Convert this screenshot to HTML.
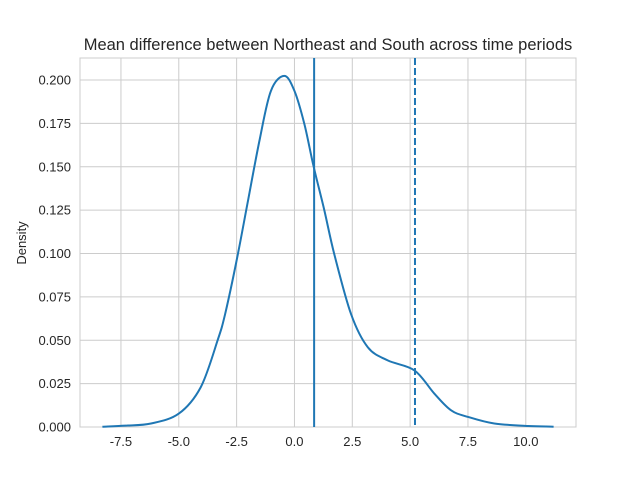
<!DOCTYPE html>
<html><head><meta charset="utf-8"><style>
body{margin:0;background:#fff;}
svg{display:block;font-family:"Liberation Sans","DejaVu Sans",sans-serif;}
</style></head><body>
<svg id="chart" width="640" height="480">
<text x="328" y="50" text-anchor="middle" font-size="16.5" fill="#262626">Mean difference between Northeast and South across time periods</text>
<text transform="translate(26,243) rotate(-90)" text-anchor="middle" font-size="13" fill="#262626">Density</text>
<g id="grid"></g><g id="marks"></g><g id="ticks"></g>
</svg>
<script>
const xs=[-8.3,-7.3,-6.2,-5,-4.05,-3.32,-3.0,-2.5,-2.0,-1.5,-1.02,-0.44,0,0.43,0.83,1.29,1.72,2.45,3.17,4.03,5.19,6.05,6.77,7.5,8.64,10.1,11.2];
const dens=[0.0002,0.0008,0.002,0.0077,0.023,0.050,0.065,0.096,0.131,0.166,0.1937,0.2024,0.1937,0.1746,0.150,0.125,0.0998,0.065,0.046,0.0384,0.0326,0.0192,0.0096,0.0058,0.002,0.0006,0.0002];
const xTicks=[-7.5,-5.0,-2.5,0.0,2.5,5.0,7.5,10.0];
const yTicks=[0.000,0.025,0.050,0.075,0.100,0.125,0.150,0.175,0.200];
const meanLine=[0.85];
const dashedLine=[5.21];
const L=80,R=576,T=58,B=427;
const xMin=-9.27,xMax=12.17,yMin=0,yMax=0.2127;
const sx=v=>L+(v-xMin)/(xMax-xMin)*(R-L);
const sy=v=>B-(v-yMin)/(yMax-yMin)*(B-T);
const NS='http://www.w3.org/2000/svg';
function mk(tag,attrs,parent){const e=document.createElementNS(NS,tag);for(const k in attrs)e.setAttribute(k,attrs[k]);document.getElementById(parent).appendChild(e);return e;}
const frame=mk('rect',{x:L,y:T,width:R-L,height:B-T,fill:'none',stroke:'#cccccc','stroke-width':1},'grid');


xTicks.forEach(v=>{
 const g=mk('line',{x1:sx(v),x2:sx(v),y1:T,y2:B,stroke:'#cccccc','stroke-width':1},'grid');
 
 
 const t=mk('text',{x:sx(v),y:B+19,'text-anchor':'middle','font-size':13,fill:'#262626'},'ticks');
 t.textContent=v.toFixed(1);
 
 
});
yTicks.forEach(v=>{
 const g=mk('line',{x1:L,x2:R,y1:sy(v),y2:sy(v),stroke:'#cccccc','stroke-width':1},'grid');
 
 
 const t=mk('text',{x:L-9,y:sy(v)+4.5,'text-anchor':'end','font-size':13,fill:'#262626'},'ticks');
 t.textContent=v.toFixed(3);
 
 
});
const P=xs.map((x,i)=>[sx(x),sy(dens[i])]);
let d='M'+P[0][0].toFixed(1)+','+P[0][1].toFixed(1);
for(let i=0;i<P.length-1;i++){
 const p0=P[Math.max(0,i-1)],p1=P[i],p2=P[i+1],p3=P[Math.min(P.length-1,i+2)];
 const c1=[p1[0]+(p2[0]-p0[0])/6,p1[1]+(p2[1]-p0[1])/6];
 const c2=[p2[0]-(p3[0]-p1[0])/6,p2[1]-(p3[1]-p1[1])/6];
 d+=' C'+c1[0].toFixed(1)+','+c1[1].toFixed(1)+' '+c2[0].toFixed(1)+','+c2[1].toFixed(1)+' '+p2[0].toFixed(1)+','+p2[1].toFixed(1);
}
const p=mk('path',{d:d,fill:'none',stroke:'#1f77b4','stroke-width':2,'stroke-linejoin':'round'},'marks');


meanLine.forEach(v=>{
 const l=mk('line',{x1:sx(v),x2:sx(v),y1:T,y2:B,stroke:'#1f77b4','stroke-width':2},'marks');
 
 
});
dashedLine.forEach(v=>{
 const l=mk('line',{x1:sx(v),x2:sx(v),y1:T,y2:B,stroke:'#1f77b4','stroke-width':2,'stroke-dasharray':'7,3'},'marks');
 
 
});
</script>
</body></html>
